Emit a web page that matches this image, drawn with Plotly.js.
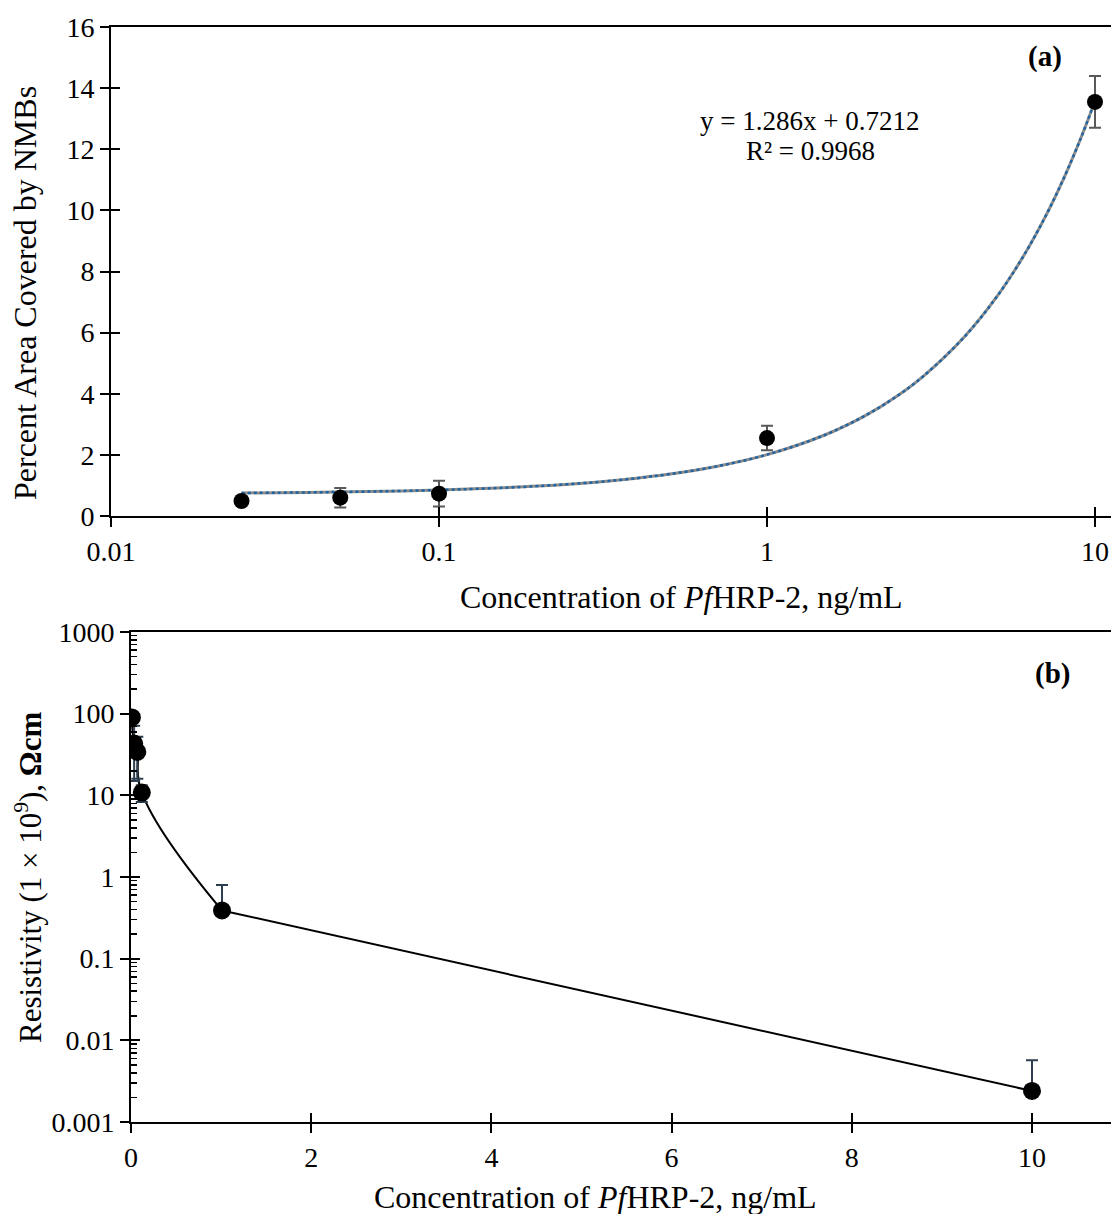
<!DOCTYPE html>
<html>
<head>
<meta charset="utf-8">
<script src="https://cdn.plot.ly/plotly-3.0.1.min.js"></script>
<style>html,body{margin:0;padding:0;background:#fff;}#chart{width:1111px;height:1214px;}</style>
</head>
<body>
<div id="chart"></div>
<script>
// ---------- Panel (a) data ----------
var concA = [0.025, 0.05, 0.1, 1, 10];
var areaA = [0.49, 0.6, 0.73, 2.55, 13.55];
var areaErrA = [0.05, 0.32, 0.42, 0.4, 0.85];
// trend line y = 1.286x + 0.7212 (values as drawn)
var trendX = [0.025, 0.04, 0.06, 0.1, 0.15, 0.2, 0.3, 0.4, 0.5, 0.7, 1, 1.5, 2, 2.5, 3, 4, 5, 6, 7, 8, 9, 10];
var trendY = [0.753, 0.773, 0.798, 0.850, 0.914, 0.978, 1.107, 1.236, 1.364, 1.621, 2.007, 2.650, 3.293, 3.936, 4.579, 5.865, 7.151, 8.437, 9.723, 11.009, 12.295, 13.581];
var tickA = [0.01, 0.1, 1, 10];
var tickTextA = ['0.01', '0.1', '1', '10'];

// ---------- Panel (b) data ----------
var concB = [0.01, 0.035, 0.07, 0.12, 1.01, 10];
var resB = [90, 43, 34, 10.8, 0.39, 0.0024];
var resErrPlus = [4, 28, 18, 2.5, 0.41, 0.0033];
var resErrMinus = [4, 28, 18, 2.5, 0, 0];
var tickBy = [0.001, 0.01, 0.1, 1, 10, 100, 1000];
var tickTextBy = ['0.001', '0.01', '0.1', '1', '10', '100', '1000'];
var tickBx = [0, 2, 4, 6, 8, 10];

var W = 1111, H = 1214;
function px(x){return x / W;}
function py(y){return 1 - y / H;}

var FONT = 'Liberation Serif, Times New Roman, serif';

var minorB = [];
for (var e = -3; e < 3; e++) { for (var k = 2; k <= 9; k++) { minorB.push(k * Math.pow(10, e)); } }

var traces = [
  {x: trendX, y: trendY, xaxis: 'x', yaxis: 'y', mode: 'lines', line: {color: '#8c8c8c', width: 3, shape: 'spline'}, hoverinfo: 'skip', showlegend: false},
  {x: trendX, y: trendY, xaxis: 'x', yaxis: 'y', mode: 'lines', line: {color: '#1f64a3', width: 2.5, dash: 'dot', shape: 'spline'}, hoverinfo: 'skip', showlegend: false},
  {x: concA, y: areaA, xaxis: 'x', yaxis: 'y', mode: 'markers', marker: {color: '#000', size: 16},
   error_y: {type: 'data', array: areaErrA, visible: true, color: '#595959', thickness: 2, width: 6}, showlegend: false},
  {x: [0.1], y: [-1], xaxis: 'x3', yaxis: 'y', mode: 'markers', marker: {size: 1, opacity: 0}, showlegend: false, hoverinfo: 'skip'},
  {x: [0.1], y: [-1], xaxis: 'x', yaxis: 'y3', mode: 'markers', marker: {size: 1, opacity: 0}, showlegend: false, hoverinfo: 'skip'},

  {x: concB.slice(0, 5), y: resB.slice(0, 5), xaxis: 'x2', yaxis: 'y2', mode: 'lines', line: {color: '#000', width: 2, shape: 'spline', smoothing: 1.3}, hoverinfo: 'skip', showlegend: false},
  {x: concB.slice(4), y: resB.slice(4), xaxis: 'x2', yaxis: 'y2', mode: 'lines', line: {color: '#000', width: 2}, hoverinfo: 'skip', showlegend: false},
  {x: concB, y: resB, xaxis: 'x2', yaxis: 'y2', mode: 'markers', marker: {color: '#000', size: 18},
   error_y: {type: 'data', symmetric: false, array: resErrPlus, arrayminus: resErrMinus, visible: true, color: '#2d3e50', thickness: 2, width: 6}, showlegend: false},
  {x: [-5], y: [1], xaxis: 'x4', yaxis: 'y2', mode: 'markers', marker: {size: 1, opacity: 0}, showlegend: false, hoverinfo: 'skip'},
  {x: [-5], y: [1], xaxis: 'x2', yaxis: 'y4', mode: 'markers', marker: {size: 1, opacity: 0}, showlegend: false, hoverinfo: 'skip'}
];

var TS = 28;
function base(){ return {showgrid: false, zeroline: false, tickfont: {family: FONT, size: TS, color: '#000'}, tickcolor: '#000', tickwidth: 2, ticklen: 9, fixedrange: true}; }
function ax(o){ var r = base(); for (var k in o) r[k] = o[k]; return r; }

var domAx = [px(111), 1], domAy = [py(516), py(27)];
var domBx = [px(131), 1], domBy = [py(1122), py(632)];
var rangeAx = [-2, 1 + 16 / 328];
var rangeBx = [0, 10 + 79 / 90.1];

var layout = {
  width: W, height: H,
  margin: {l: 0, r: 0, t: 0, b: 0},
  paper_bgcolor: '#fff', plot_bgcolor: 'rgba(0,0,0,0)',
  font: {family: FONT, color: '#000'},
  showlegend: false,
  xaxis: ax({type: 'log', range: rangeAx, domain: domAx, anchor: 'y', showline: true, linewidth: 2, linecolor: '#000', mirror: true,
             ticks: 'outside', tickmode: 'array', tickvals: tickA, ticktext: tickTextA, ticklabelstandoff: 0}),
  xaxis3: ax({type: 'log', range: rangeAx, domain: domAx, anchor: 'y', overlaying: 'x', showline: false,
              ticks: 'inside', tickmode: 'array', tickvals: tickA, showticklabels: false}),
  yaxis: ax({range: [0, 16], domain: domAy, anchor: 'x', showline: true, linewidth: 2, linecolor: '#000',
             ticks: 'outside', tickmode: 'linear', tick0: 0, dtick: 2, ticklabelstandoff: 0}),
  yaxis3: ax({range: [0, 16], domain: domAy, anchor: 'x', overlaying: 'y', showline: false,
              ticks: 'inside', tickmode: 'linear', tick0: 0, dtick: 2, showticklabels: false}),

  xaxis2: ax({range: rangeBx, domain: domBx, anchor: 'y2', showline: true, linewidth: 2, linecolor: '#000', mirror: true,
              ticks: 'outside', tickmode: 'array', tickvals: tickBx, ticklabelstandoff: 0}),
  xaxis4: ax({range: rangeBx, domain: domBx, anchor: 'y2', overlaying: 'x2', showline: false,
              ticks: 'inside', tickmode: 'array', tickvals: tickBx, showticklabels: false}),
  yaxis2: ax({type: 'log', range: [-3, 3], domain: domBy, anchor: 'x2', showline: true, linewidth: 2, linecolor: '#000',
              ticks: 'outside', tickmode: 'array', tickvals: tickBy, ticktext: tickTextBy, ticklabelstandoff: 0,
              minor: {ticks: 'inside', ticklen: 6, tickwidth: 1.5, tickcolor: '#000', tickmode: 'array', tickvals: minorB, showgrid: false}}),
  yaxis4: ax({type: 'log', range: [-3, 3], domain: domBy, anchor: 'x2', overlaying: 'y2', showline: false,
              ticks: 'inside', tickmode: 'array', tickvals: tickBy, showticklabels: false}),

  annotations: [
    {xref: 'paper', yref: 'paper', x: px(25), y: py(293), text: 'Percent Area Covered by NMBs', textangle: -90, showarrow: false,
     xanchor: 'center', yanchor: 'middle', font: {family: FONT, size: 32, color: '#000'}},
    {xref: 'paper', yref: 'paper', x: px(681), y: py(597), text: 'Concentration of <i>Pf</i>HRP-2, ng/mL', showarrow: false,
     xanchor: 'center', yanchor: 'middle', font: {family: FONT, size: 32, color: '#000'}},
    {xref: 'paper', yref: 'paper', x: px(809), y: py(121), text: 'y = 1.286x + 0.7212', showarrow: false,
     xanchor: 'center', yanchor: 'middle', font: {family: FONT, size: 27, color: '#000'}},
    {xref: 'paper', yref: 'paper', x: px(810), y: py(151), text: 'R² = 0.9968', showarrow: false,
     xanchor: 'center', yanchor: 'middle', font: {family: FONT, size: 27, color: '#000'}},
    {xref: 'paper', yref: 'paper', x: px(1045), y: py(57), text: '<b>(a)</b>', showarrow: false,
     xanchor: 'center', yanchor: 'middle', font: {family: FONT, size: 29, color: '#000'}},

    {xref: 'paper', yref: 'paper', x: px(28), y: py(878), text: 'Resistivity (1 × 10<sup>9</sup>), <b>Ωcm</b>', textangle: -90, showarrow: false,
     xanchor: 'center', yanchor: 'middle', font: {family: FONT, size: 31, color: '#000'}},
    {xref: 'paper', yref: 'paper', x: px(595), y: py(1197), text: 'Concentration of <i>Pf</i>HRP-2, ng/mL', showarrow: false,
     xanchor: 'center', yanchor: 'middle', font: {family: FONT, size: 32, color: '#000'}},
    {xref: 'paper', yref: 'paper', x: px(1052), y: py(674), text: '<b>(b)</b>', showarrow: false,
     xanchor: 'center', yanchor: 'middle', font: {family: FONT, size: 29, color: '#000'}}
  ]
};

Plotly.newPlot('chart', traces, layout, {displayModeBar: false, staticPlot: true});
</script>
</body>
</html>
